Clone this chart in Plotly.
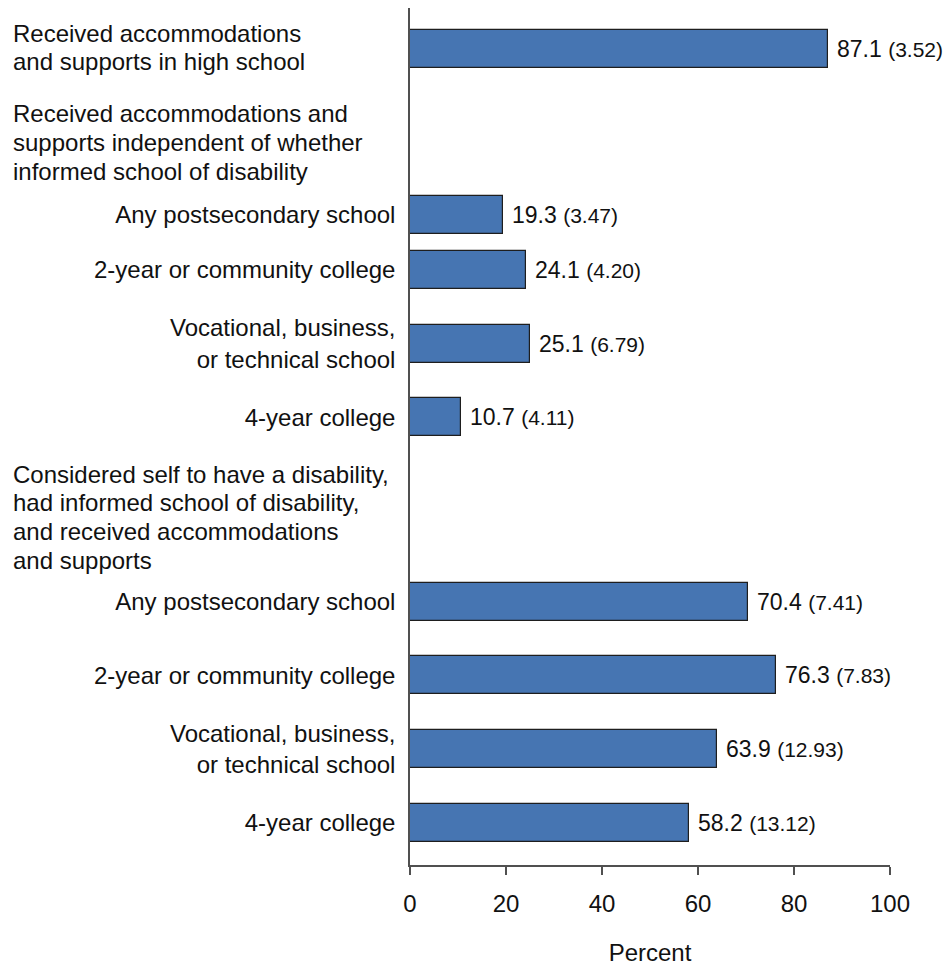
import plotly.graph_objects as go

# ---------------- data ----------------
hs_heading = ["Received accommodations", "and supports in high school"]
group1_heading = ["Received accommodations and",
                  "supports independent of whether",
                  "informed school of disability"]
group2_heading = ["Considered self to have a disability,",
                  "had informed school of disability,",
                  "and received accommodations",
                  "and supports"]
school_types = ["Any postsecondary school",
                "2-year or community college",
                "Vocational, business,<br>or technical school",
                "4-year college"]

hs_value = 87.1
hs_se = "3.52"
group1_values = [19.3, 24.1, 25.1, 10.7]
group1_se = ["3.47", "4.20", "6.79", "4.11"]
group2_values = [70.4, 76.3, 63.9, 58.2]
group2_se = ["7.41", "7.83", "12.93", "13.12"]

x_ticks = [0, 20, 40, 60, 80, 100]
x_title = "Percent"

# ---------------- styling / layout ----------------
FONT = "Liberation Sans, Arial, Helvetica, sans-serif"
FS = 24
VAL_FS = 23
SE_FS = 21
BAR_COLOR = "#4675B2"
EDGE = "#1E1E1E"
AXIS = "#505050"
TXT = "#111111"

W, H = 947, 966
ML, MR, MT, MB = 410, 57, 8, 101
PLOT_H = H - MT - MB

# Row layout on a fine category grid: number of blank slots before each bar
# (blank slots leave room for the group headings).
GAPS_G1 = [8, 2, 3, 3]
GAPS_G2 = [9, 3, 3, 3]

slots, bars = [], []


def add_gap(n):
    for _ in range(n):
        slots.append(f"gap{len(slots)}")


slots.append("hs")
bars.append(("hs", hs_value, hs_se, ""))
for gi, (vals, ses, gaps) in enumerate(((group1_values, group1_se, GAPS_G1),
                                        (group2_values, group2_se, GAPS_G2))):
    for i, (lab, v, s, g) in enumerate(zip(school_types, vals, ses, gaps)):
        add_gap(g)
        cid = f"g{gi + 1}_{i}"
        slots.append(cid)
        bars.append((cid, v, s, lab))

value_by_id = {b[0]: b[1] for b in bars}
x_all = [value_by_id.get(s) for s in slots]

# pixel geometry of the category grid
top_center = 49
slot_px = (822.5 - top_center) / (len(slots) - 1)
y_top = -(top_center - MT) / slot_px
y_bot = (H - MB - top_center) / slot_px

fig = go.Figure()
fig.add_trace(go.Bar(
    y=slots, x=x_all, orientation="h",
    width=38 / slot_px,
    marker=dict(color=BAR_COLOR, line=dict(color=EDGE, width=1.2)),
    hoverinfo="skip", showlegend=False,
))

annotations = []
# value labels
for cid, v, s, _ in bars:
    annotations.append(dict(
        x=v, y=cid, xref="x", yref="y", xanchor="left", yanchor="middle",
        xshift=7, showarrow=False,
        text=f"{v:.1f} <span style='font-size:{SE_FS}px'>({s})</span>",
        font=dict(family=FONT, size=VAL_FS, color=TXT),
    ))


def px_to_paper_y(py):
    return (H - MB - py) / PLOT_H


left_x = (11 - ML) / (W - ML - MR)
LINE_PITCH = 28.8
for lines, first_center in ((hs_heading, 33), (group1_heading, 114),
                            (group2_heading, 474)):
    for j, line in enumerate(lines):
        annotations.append(dict(
            x=left_x, y=px_to_paper_y(first_center + j * LINE_PITCH),
            xref="paper", yref="paper", xanchor="left", yanchor="middle",
            showarrow=False, align="left", text=line,
            font=dict(family=FONT, size=FS, color=TXT),
        ))

fig.update_layout(
    width=W, height=H,
    margin=dict(l=ML, r=MR, t=MT, b=MB, autoexpand=False),
    paper_bgcolor="white", plot_bgcolor="white",
    font=dict(family=FONT, size=FS, color=TXT),
    annotations=annotations,
    bargap=0,
)
fig.update_xaxes(
    range=[0, 100], tickmode="array", tickvals=x_ticks,
    ticktext=[str(t) for t in x_ticks],
    showline=True, linecolor=AXIS, linewidth=1.5,
    ticks="outside", ticklen=8, tickwidth=1.5, tickcolor=AXIS,
    ticklabelstandoff=8, automargin=False,
    showgrid=False, zeroline=False,
    tickfont=dict(family=FONT, size=FS, color=TXT),
    title=dict(text=x_title, standoff=33,
               font=dict(family=FONT, size=FS, color=TXT)),
)
fig.update_yaxes(
    type="category", categoryorder="array", categoryarray=slots,
    range=[y_bot, y_top], autorange=False, automargin=False,
    tickmode="array", tickvals=[b[0] for b in bars],
    ticktext=[b[3] for b in bars],
    showline=True, linecolor=AXIS, linewidth=1.5,
    ticks="", ticklabelstandoff=8,
    showgrid=False, zeroline=False,
    tickfont=dict(family=FONT, size=FS, color=TXT),
)

fig.write_html(
    "out.html",
    config={"displayModeBar": False},
    post_script="document.body.style.margin='0';document.body.style.padding='0';",
)
